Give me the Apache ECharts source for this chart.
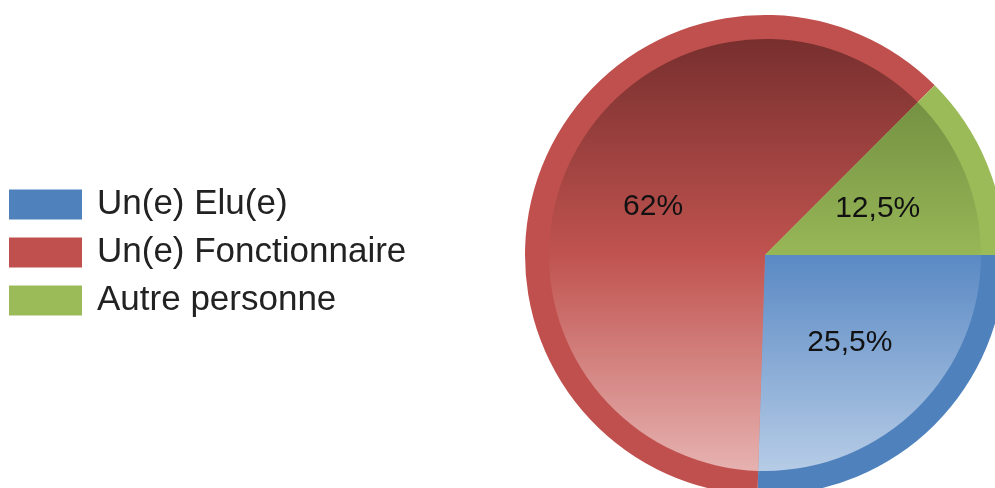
<!DOCTYPE html>
<html>
<head>
<meta charset="utf-8">
<script src="https://cdn.jsdelivr.net/npm/echarts@6/dist/echarts.min.js"></script>
<style>html,body{margin:0;padding:0;background:#fff}#c{width:995px;height:488px}</style>
</head>
<body>
<div id="c"></div>
<script>
var categories = ['Un(e) Elu(e)', 'Un(e) Fonctionnaire', 'Autre personne'];
var values = [25.5, 62, 12.5];
var rimColors = ['#4f81bd', '#c0504d', '#9bbb59'];
var gradStops = [
  [[0, '#2f5f9a'], [0.5, '#5a89c4'], [1, '#b6cce6']],
  [[0, '#772f2e'], [0.5, '#c0534f'], [1, '#e6b2b0']],
  [[0, '#66823a'], [0.5, '#97b757'], [1, '#c4d99c']]
];

var chart = echarts.init(document.getElementById('c'), null, {renderer: 'canvas'});
var CX = 765, CY = 255, R = 240, RI = 216;

function fmt(v) { return String(v).replace('.', ',') + '%'; }

var rimData = categories.map(function (n, i) {
  return {name: n, value: values[i], itemStyle: {color: rimColors[i]}};
});
var innerData = categories.map(function (n, i) {
  return {name: n, value: values[i], itemStyle: {
    color: new echarts.graphic.LinearGradient(0, CY - RI, 0, CY + RI,
      gradStops[i].map(function (s) { return {offset: s[0], color: s[1]}; }), true)
  }};
});
var labelData = categories.map(function (n, i) {
  return {name: n, value: values[i], itemStyle: {color: 'rgba(0,0,0,0)'}};
});

var common = {
  type: 'pie', center: [CX, CY], startAngle: 0, clockwise: true,
  animation: false, silent: true, emphasis: {disabled: true},
  avoidLabelOverlap: false, labelLine: {show: false},
  itemStyle: {borderWidth: 0}
};

chart.setOption({
  animation: false,
  legend: {
    orient: 'vertical', left: 9, top: 187, padding: 0,
    itemWidth: 73, itemHeight: 30, itemGap: 13,
    icon: 'rect', selectedMode: false,
    data: categories,
    textStyle: {fontFamily: 'Liberation Sans, Arial, sans-serif', fontSize: 35, color: '#222', lineHeight: 32, padding: [0, 0, 0, 10]}
  },
  series: [
    Object.assign({}, common, {name: 'rim', radius: [0, R], z: 1, label: {show: false}, data: rimData}),
    Object.assign({}, common, {name: 'inner', radius: [0, RI], z: 2, label: {show: false}, data: innerData}),
    Object.assign({}, common, {name: 'labels', radius: [0, 238], z: 3,
      label: {show: true, position: 'inside', color: '#111',
        fontFamily: 'Liberation Sans, Arial, sans-serif', fontSize: 30,
        padding: [4, 0, 0, 0],
        formatter: function (p) { return fmt(p.value); }},
      data: labelData})
  ]
});
</script>
</body>
</html>
